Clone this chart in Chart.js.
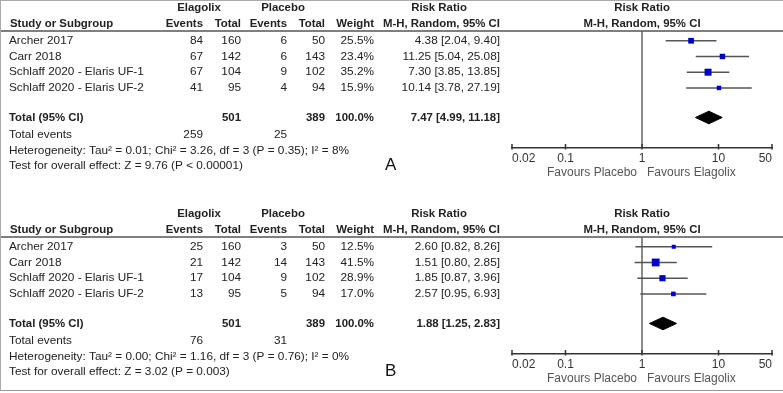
<!DOCTYPE html>
<html>
<head>
<meta charset="utf-8">
<script src="https://cdn.jsdelivr.net/npm/chart.js@4.4.1/dist/chart.umd.min.js"></script>
<style>
  html, body { margin: 0; padding: 0; background: #fff; }
  #wrap { position: relative; width: 783px; height: 393px; overflow: hidden; }
  canvas { position: absolute; left: 0; }
  #frame { position: absolute; left: 0; top: 0; width: 782px; height: 389px;
    border-left: 1px solid #aaa; border-top: 1px solid #aaa; border-bottom: 1px solid #999; pointer-events: none; }
</style>
</head>
<body>
<div id="wrap">
  <canvas id="chartA" width="783" height="206" style="top:0"></canvas>
  <canvas id="chartB" width="783" height="206" style="top:206px"></canvas>
  <div id="frame"></div>
</div>
<script>
const studies = ['Archer 2017', 'Carr 2018', 'Schlaff 2020 - Elaris UF-1', 'Schlaff 2020 - Elaris UF-2'];
const elaTotal = [160, 142, 104, 95];
const plaTotal = [50, 143, 102, 94];
const tickValues = [0.02, 0.1, 1, 10, 50];

// panel A
const elaEventsA = [84, 67, 67, 41];
const plaEventsA = [6, 6, 9, 4];
const weightA = [25.5, 23.4, 35.2, 15.9];
const rrA = [4.38, 11.25, 7.30, 10.14];
const loA = [2.04, 5.04, 3.85, 3.78];
const hiA = [9.40, 25.08, 13.85, 27.19];
const totalA = [7.47, 4.99, 11.18];
const totalEventsA = [259, 25];
const hetA = 'Heterogeneity: Tau\u00b2 = 0.01; Chi\u00b2 = 3.26, df = 3 (P = 0.35); I\u00b2 = 8%';
const testA = 'Test for overall effect: Z = 9.76 (P < 0.00001)';

// panel B
const elaEventsB = [25, 21, 17, 13];
const plaEventsB = [3, 14, 9, 5];
const weightB = [12.5, 41.5, 28.9, 17.0];
const rrB = [2.60, 1.51, 1.85, 2.57];
const loB = [0.82, 0.80, 0.87, 0.95];
const hiB = [8.26, 2.85, 3.96, 6.93];
const totalB = [1.88, 1.25, 2.83];
const totalEventsB = [76, 31];
const hetB = 'Heterogeneity: Tau\u00b2 = 0.00; Chi\u00b2 = 1.16, df = 3 (P = 0.76); I\u00b2 = 0%';
const testB = 'Test for overall effect: Z = 3.02 (P = 0.003)';

const totalWeight = '100.0%';

const FONT = '"Liberation Sans", Arial, sans-serif';
const TEXT = '#222';
const Y_MIN = -0.62, Y_MAX = 6.82;   // header rule .. axis line, in row units
const TOTAL_ROW = 4.88;

function fmt(v) { return v.toFixed(2); }

function text(ctx, s, x, y, align, bold, size, color) {
  ctx.font = (bold ? 'bold ' : '') + (size || (bold ? 11.4 : 11.8)) + 'px ' + FONT;
  ctx.fillStyle = color || TEXT;
  ctx.textAlign = align;
  ctx.textBaseline = 'middle';
  ctx.fillText(s, x, y);
}

const tablePlugin = {
  id: 'table',
  afterDraw(chart) {
    const p = chart.options.plugins.table;
    const ctx = chart.ctx;
    const ys = chart.scales.y, xs = chart.scales.x;
    const area = chart.chartArea;
    const row = r => ys.getPixelForValue(r);
    const mid = (area.left + area.right) / 2;
    ctx.save();

    // header
    text(ctx, 'Elagolix', 199, row(-2.1), 'center', true);
    text(ctx, 'Placebo', 283, row(-2.1), 'center', true);
    text(ctx, 'Risk Ratio', 439, row(-2.1), 'center', true);
    text(ctx, 'Risk Ratio', mid, row(-2.1), 'center', true);
    text(ctx, 'Study or Subgroup', 10, row(-1.08), 'left', true);
    text(ctx, 'Events', 203, row(-1.08), 'right', true);
    text(ctx, 'Total', 241, row(-1.08), 'right', true);
    text(ctx, 'Events', 287, row(-1.08), 'right', true);
    text(ctx, 'Total', 325, row(-1.08), 'right', true);
    text(ctx, 'Weight', 374, row(-1.08), 'right', true);
    text(ctx, 'M-H, Random, 95% CI', 500, row(-1.08), 'right', true);
    text(ctx, 'M-H, Random, 95% CI', mid, row(-1.08), 'center', true);

    ctx.strokeStyle = '#555';
    ctx.lineWidth = 1.5;
    ctx.beginPath();
    ctx.moveTo(0, area.top);
    ctx.lineTo(chart.width, area.top);
    ctx.stroke();

    // studies
    studies.forEach((name, i) => {
      const y = row(i);
      text(ctx, name, 9, y, 'left');
      text(ctx, String(p.elaEvents[i]), 203, y, 'right');
      text(ctx, String(elaTotal[i]), 241, y, 'right');
      text(ctx, String(p.plaEvents[i]), 287, y, 'right');
      text(ctx, String(plaTotal[i]), 325, y, 'right');
      text(ctx, p.weight[i].toFixed(1) + '%', 374, y, 'right');
      text(ctx, fmt(p.rr[i]) + ' [' + fmt(p.lo[i]) + ', ' + fmt(p.hi[i]) + ']', 500, y, 'right');
    });

    // totals
    const sum = a => a.reduce((s, v) => s + v, 0);
    const yt = row(TOTAL_ROW);
    text(ctx, 'Total (95% CI)', 9, yt, 'left', true);
    text(ctx, String(sum(elaTotal)), 241, yt, 'right', true);
    text(ctx, String(sum(plaTotal)), 325, yt, 'right', true);
    text(ctx, totalWeight, 374, yt, 'right', true);
    text(ctx, fmt(p.total[0]) + ' [' + fmt(p.total[1]) + ', ' + fmt(p.total[2]) + ']', 500, yt, 'right', true);
    text(ctx, 'Total events', 9, row(5.95), 'left');
    text(ctx, String(p.totalEvents[0]), 203, row(5.95), 'right');
    text(ctx, String(p.totalEvents[1]), 287, row(5.95), 'right');
    text(ctx, p.het, 9, row(6.98), 'left');
    text(ctx, p.test, 9, row(7.95), 'left');
    text(ctx, p.label, 385, row(7.92), 'left', false, 17, '#111');

    // axis tick marks and favours labels
    ctx.strokeStyle = '#333';
    ctx.lineWidth = 1.5;
    tickValues.forEach(v => {
      const x = xs.getPixelForValue(v);
      ctx.beginPath();
      ctx.moveTo(x, area.bottom - 4);
      ctx.lineTo(x, area.bottom + 1.5);
      ctx.stroke();
    });
    const x1 = xs.getPixelForValue(1);
    text(ctx, 'Favours Placebo', x1 - 5, row(8.4), 'right', false, 12, '#555');
    text(ctx, 'Favours Elagolix', x1 + 5, row(8.4), 'left', false, 12, '#555');
    ctx.restore();
  }
};

function makeChart(id, p) {
  const half = 0.4;
  const datasets = [
    {
      data: p.rr.map((v, i) => ({ x: v, y: i })),
      pointStyle: 'rect',
      pointRadius: p.weight.map(w => (2.4 + w * 0.13) / Math.SQRT2),
      backgroundColor: '#0000cc',
      borderWidth: 0
    }
  ];
  p.rr.forEach((v, i) => {
    datasets.push({
      data: [{ x: p.lo[i], y: i }, { x: p.hi[i], y: i }],
      showLine: true,
      borderColor: '#555',
      borderWidth: 1.5,
      pointRadius: 0
    });
  });
  // diamond
  datasets.push({
    data: [{ x: p.total[1], y: TOTAL_ROW }, { x: p.total[0], y: TOTAL_ROW - half }, { x: p.total[2], y: TOTAL_ROW }],
    showLine: true, borderColor: '#000', borderWidth: 1, pointRadius: 0
  });
  datasets.push({
    data: [{ x: p.total[1], y: TOTAL_ROW }, { x: p.total[0], y: TOTAL_ROW + half }, { x: p.total[2], y: TOTAL_ROW }],
    showLine: true, borderColor: '#000', borderWidth: 1, pointRadius: 0,
    fill: '-1', backgroundColor: '#000'
  });
  // line of no effect
  datasets.push({
    data: [{ x: 1, y: Y_MIN }, { x: 1, y: Y_MAX }],
    showLine: true, borderColor: '#666', borderWidth: 1.5, pointRadius: 0
  });

  return new Chart(document.getElementById(id), {
    type: 'scatter',
    data: { datasets },
    plugins: [tablePlugin],
    options: {
      responsive: false,
      animation: false,
      layout: { padding: { left: 512, right: 11, top: 31, bottom: 37.6 } },
      plugins: {
        legend: { display: false },
        tooltip: { enabled: false },
        table: p
      },
      scales: {
        x: {
          type: 'logarithmic',
          min: 0.02,
          max: 50,
          afterBuildTicks: s => { s.ticks = tickValues.map(v => ({ value: v })); },
          grid: { display: false, drawTicks: false },
          border: { display: true, color: '#333', width: 1.5 },
          ticks: {
            align: 'inner',
            padding: 3,
            color: '#333',
            font: { family: FONT, size: 12 },
            maxRotation: 0,
            autoSkip: false,
            callback: v => String(v)
          }
        },
        y: {
          type: 'linear',
          reverse: true,
          min: Y_MIN,
          max: Y_MAX,
          display: false
        }
      }
    }
  });
}

makeChart('chartA', {
  label: 'A', elaEvents: elaEventsA, plaEvents: plaEventsA, weight: weightA,
  rr: rrA, lo: loA, hi: hiA, total: totalA, totalEvents: totalEventsA, het: hetA, test: testA
});
makeChart('chartB', {
  label: 'B', elaEvents: elaEventsB, plaEvents: plaEventsB, weight: weightB,
  rr: rrB, lo: loB, hi: hiB, total: totalB, totalEvents: totalEventsB, het: hetB, test: testB
});
</script>
</body>
</html>
